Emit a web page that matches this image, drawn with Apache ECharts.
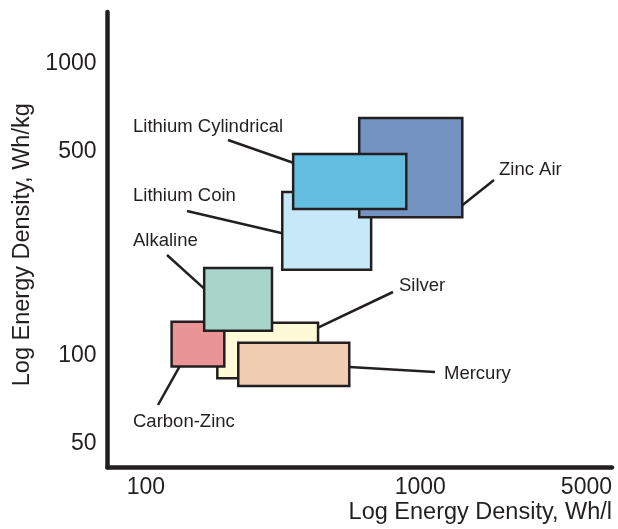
<!DOCTYPE html>
<html>
<head>
<meta charset="utf-8">
<script src="https://cdn.jsdelivr.net/npm/echarts@6/dist/echarts.min.js"></script>
<style>
  html, body { margin: 0; padding: 0; background: #ffffff; }
  #chart { width: 618px; height: 529px; }
</style>
</head>
<body>
<div id="chart"></div>
<script>
// ---- Data ----
// Drawing order: later items are drawn on top.
const categories = ['Lithium Coin', 'Zinc Air', 'Lithium Cylindrical', 'Silver', 'Carbon-Zinc', 'Alkaline', 'Mercury'];
const whPerLiterMin = [314, 599, 344, 182, 124, 163, 217];
const whPerLiterMax = [662, 1423, 889, 424, 193, 288, 551];
const whPerKgMin = [197, 298, 318, 84, 92, 122, 79];
const whPerKgMax = [363, 650, 490, 130, 131, 200, 111];
const xTickValues = [100, 1000, 5000];
const yTickValues = [50, 100, 500, 1000];

// ---- Styles ----
const fillColors = ['#c6e8f8', '#7393c1', '#62bde0', '#fef9d7', '#e99497', '#a9d4c9', '#f0cdb0'];
const ink = '#231f20';
const FONT = '"Liberation Sans", Arial, Helvetica, sans-serif';
// label placement (pixels) and the point of the box the leader line attaches to (fractions of box)
const labelStyle = {
  'Lithium Coin':        { tx: 133, ty: 195, lx: 187, ly: 211, fx: 0, fy: 0.53 },
  'Zinc Air':            { tx: 499, ty: 169, lx: 494, ly: 180, fx: 1, fy: 0.88 },
  'Lithium Cylindrical': { tx: 133, ty: 126, lx: 228, ly: 140, fx: 0, fy: 0.16 },
  'Silver':              { tx: 399, ty: 285, lx: 393, ly: 292, fx: 1, fy: 0.09 },
  'Carbon-Zinc':         { tx: 133, ty: 421, lx: 158, ly: 405, fx: 0.15, fy: 1 },
  'Alkaline':            { tx: 133, ty: 240, lx: 167, ly: 255, fx: 0, fy: 0.33 },
  'Mercury':             { tx: 444, ty: 373, lx: 435, ly: 372, fx: 1, fy: 0.56 }
};

const seriesData = categories.map((c, i) => [whPerLiterMin[i], whPerLiterMax[i], whPerKgMin[i], whPerKgMax[i]]);

const chart = echarts.init(document.getElementById('chart'), null, { renderer: 'canvas' });

chart.setOption({
  animation: false,
  backgroundColor: '#ffffff',
  textStyle: { fontFamily: FONT },
  grid: { left: 107.5, right: 6, top: 12, bottom: 61.5, containLabel: false },
  xAxis: {
    type: 'log',
    logBase: 10,
    min: 72.4,
    max: 5000,
    name: 'Log Energy Density, Wh/l',
    nameLocation: 'end',
    nameGap: 0,
    nameTextStyle: { fontFamily: FONT, fontSize: 23.5, color: ink, align: 'right', verticalAlign: 'top', padding: [33, 0, 0, 0] },
    axisLine: { show: true, lineStyle: { color: ink, width: 4.5 } },
    axisTick: { show: false },
    splitLine: { show: false },
    axisLabel: {
      customValues: xTickValues,
      fontFamily: FONT, fontSize: 23, color: ink, margin: 9,
      alignMaxLabel: 'right',
      formatter: v => String(Math.round(v))
    }
  },
  yAxis: {
    type: 'log',
    logBase: 10,
    min: 41.6,
    max: 1497,
    name: 'Log Energy Density, Wh/kg',
    nameLocation: 'middle',
    nameRotate: 90,
    nameGap: 73,
    nameTextStyle: { fontFamily: FONT, fontSize: 23.5, color: ink, padding: [0, 10, 0, 0] },
    axisLine: { show: true, lineStyle: { color: ink, width: 4.5 } },
    axisTick: { show: false },
    splitLine: { show: false },
    axisLabel: {
      customValues: yTickValues,
      fontFamily: FONT, fontSize: 23, color: ink, margin: 11,
      padding: [3, 0, 0, 0],
      formatter: v => String(Math.round(v))
    }
  },
  series: [{
    type: 'custom',
    clip: false,
    data: seriesData,
    renderItem: function (params, api) {
      const i = params.dataIndex;
      const name = categories[i];
      const p0 = api.coord([api.value(0), api.value(3)]);
      const p1 = api.coord([api.value(1), api.value(2)]);
      const x = p0[0], y = p0[1], w = p1[0] - p0[0], h = p1[1] - p0[1];
      const ls = labelStyle[name];
      const ax = x + ls.fx * w, ay = y + ls.fy * h;
      return {
        type: 'group',
        children: [
          { type: 'line', shape: { x1: ls.lx, y1: ls.ly, x2: ax, y2: ay }, style: { stroke: ink, lineWidth: 2.5 } },
          { type: 'rect', shape: { x: x, y: y, width: w, height: h }, style: { fill: fillColors[i], stroke: ink, lineWidth: 2.5 } },
          { type: 'text', style: { text: name, x: ls.tx, y: ls.ty + 1, fill: ink, font: '18.5px ' + FONT, align: 'left', verticalAlign: 'middle' } }
        ]
      };
    }
  }]
});
</script>
</body>
</html>
